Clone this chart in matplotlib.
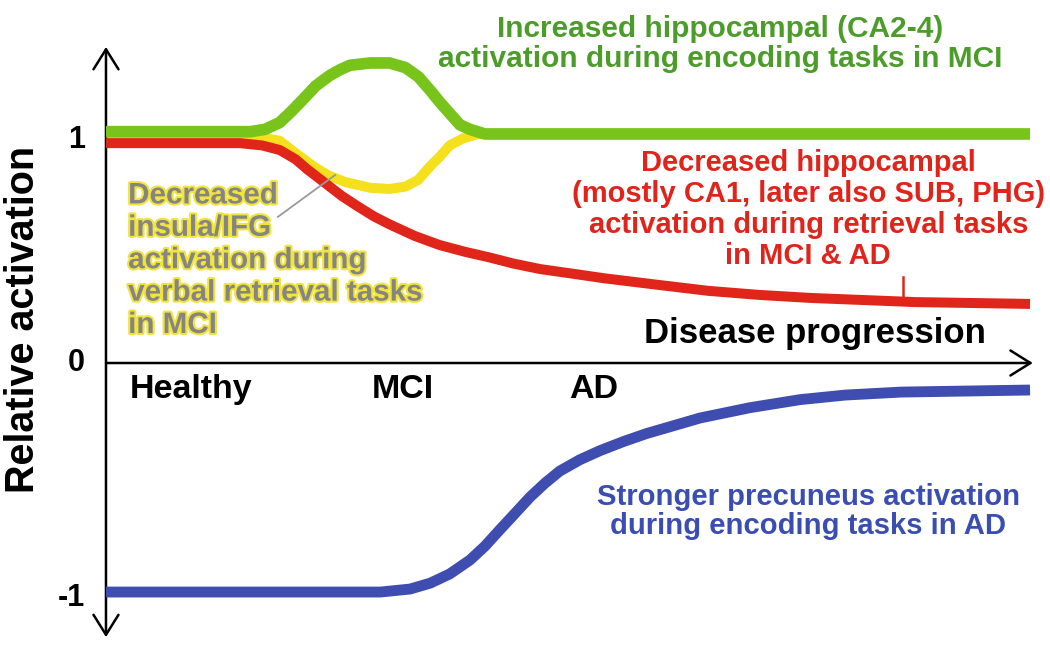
import matplotlib.pyplot as plt
import matplotlib.patheffects as pe

# curves (x: disease progression 0-100, y: relative activation)
green_x = [0, 15.6, 17.2, 18.8, 20.1, 21.3, 22.7, 24.2, 25.3, 26.4, 28.6, 30.7, 32.4, 33.8, 35.1, 36.1, 37.2, 38.3,
           39.4, 41.0, 100]
green_y = [1.01, 1.01, 1.02, 1.05, 1.10, 1.15, 1.21, 1.255, 1.28, 1.30, 1.31, 1.31, 1.29, 1.25, 1.19, 1.14, 1.09, 1.04,
           1.02, 1.00, 1.00]

yellow_x = [0, 16.1, 17.5, 18.8, 20.4, 22.4, 24.0, 25.9, 28.6, 30.7, 32.4, 33.8, 35.1, 36.1, 37.2, 38.6, 40.3, 42.6]
yellow_y = [0.99, 0.99, 0.98, 0.97, 0.92, 0.86, 0.82, 0.79, 0.765, 0.76, 0.77, 0.80, 0.86, 0.90, 0.95, 0.98, 1.00, 1.00]

red_x = [0, 14.5, 16.9, 18.8, 20.5, 21.8, 23.9, 25.5, 27.2, 29.0, 30.7, 33.4, 36.1, 38.9, 41.6, 44.0, 47.0, 50.5, 53.9,
         60.0, 65.2, 70.8, 76.3, 87.6, 100]
red_y = [0.96, 0.96, 0.95, 0.93, 0.89, 0.845, 0.78, 0.73, 0.685, 0.64, 0.605, 0.555, 0.515, 0.485, 0.46, 0.435, 0.41,
         0.39, 0.37, 0.34, 0.315, 0.297, 0.284, 0.266, 0.258]

blue_x = [0, 29.7, 32.9, 35.1, 37.2, 39.4, 41.0, 42.6, 44.3, 45.9, 47.5, 49.1, 51.3, 53.5, 56.0, 58.5, 64.3, 69.7,
          75.1, 80.0, 86.0, 100]
blue_y = [-1.0, -1.0, -0.987, -0.961, -0.921, -0.86, -0.80, -0.729, -0.655, -0.585, -0.525, -0.472, -0.422, -0.382,
          -0.343, -0.308, -0.24, -0.195, -0.16, -0.14, -0.127, -0.118]

stages = ["Healthy", "MCI", "AD"]
stage_x = [9.2, 32.1, 52.8]
y_ticks = [1, 0, -1]
y_tick_labels = ["1", "0", "-1"]

plt.rcParams['font.family'] = ['Liberation Sans', 'DejaVu Sans']
plt.rcParams['font.weight'] = 'bold'

fig = plt.figure(figsize=(10.5, 6.47), dpi=100)
ax = fig.add_axes([0, 0, 1, 1])
ax.set_xlim(-11.47, 102.16)
ax.set_ylim(-1.24, 1.585)
ax.axis('off')

# axes arrows
ax.annotate('', xy=(0, 1.38), xytext=(0, -1.197),
            arrowprops=dict(arrowstyle='<->, head_length=0.4, head_width=0.25', lw=1.8, color='black',
                            mutation_scale=36, shrinkA=0, shrinkB=0))
ax.annotate('', xy=(100.3, 0), xytext=(0, 0),
            arrowprops=dict(arrowstyle='->, head_length=0.4, head_width=0.25', lw=1.8, color='black',
                            mutation_scale=36, shrinkA=0, shrinkB=0))

# curves
ax.plot(yellow_x, yellow_y, color='#f4e01c', lw=7.2, solid_capstyle='butt', solid_joinstyle='round', zorder=2)
ax.plot(red_x, red_y, color='#e0261a', lw=7.2, solid_capstyle='butt', solid_joinstyle='round', zorder=3)
ax.plot(green_x, green_y, color='#78c41a', lw=8.4, solid_capstyle='butt', solid_joinstyle='round', zorder=4)
ax.plot(blue_x, blue_y, color='#3f4db0', lw=7.8, solid_capstyle='butt', solid_joinstyle='round', zorder=3)

# leader line and red marker
ax.plot([18.6, 24.8], [0.638, 0.821], color='#999999', lw=1.3, zorder=5)
ax.plot([86.3, 86.3], [0.376, 0.275], color='#e0261a', lw=1.8, zorder=3)

# y tick labels and axis labels
for v, lab in zip(y_ticks, y_tick_labels):
    ax.text(-2.3, v - 0.025 * abs(v), lab, ha='right', va='center', fontsize=22, fontweight='bold')
ax.text(-9.0, 0.19, "Relative activation", rotation=90, ha='center', va='center', fontsize=28.5, fontweight='bold')
for sx, s in zip(stage_x, stages):
    ax.text(sx, -0.153, s, ha='center', va='baseline', fontsize=24.5, fontweight='bold')
ax.text(76.7, 0.087, "Disease progression", ha='center', va='baseline', fontsize=25, fontweight='bold')

# annotations
ax.text(66.5, 1.293, "Increased hippocampal (CA2-4)\nactivation during encoding tasks in MCI",
        ha='center', va='baseline', fontsize=21.5, fontweight='bold', color='#4c9c2a', linespacing=1.07,
        multialignment='center')
ax.text(76.0, 0.432, "Decreased hippocampal\n(mostly CA1, later also SUB, PHG)\n"
        "activation during retrieval tasks\nin MCI & AD",
        ha='center', va='baseline', fontsize=21, fontweight='bold', color='#e0241c', linespacing=1.14,
        multialignment='center')
ax.text(2.4, 0.131, "Decreased\ninsula/IFG\nactivation during\nverbal retrieval tasks\nin MCI",
        ha='left', va='baseline', fontsize=21.3, fontweight='bold', color='#858585', linespacing=1.2,
        path_effects=[pe.withStroke(linewidth=3, foreground='#f2e43a')])
ax.text(76.0, -0.747, "Stronger precuneus activation\nduring encoding tasks in AD",
        ha='center', va='baseline', fontsize=21.1, fontweight='bold', color='#3a4db3', linespacing=1.07,
        multialignment='center')

fig.savefig('out.png', dpi=100)
